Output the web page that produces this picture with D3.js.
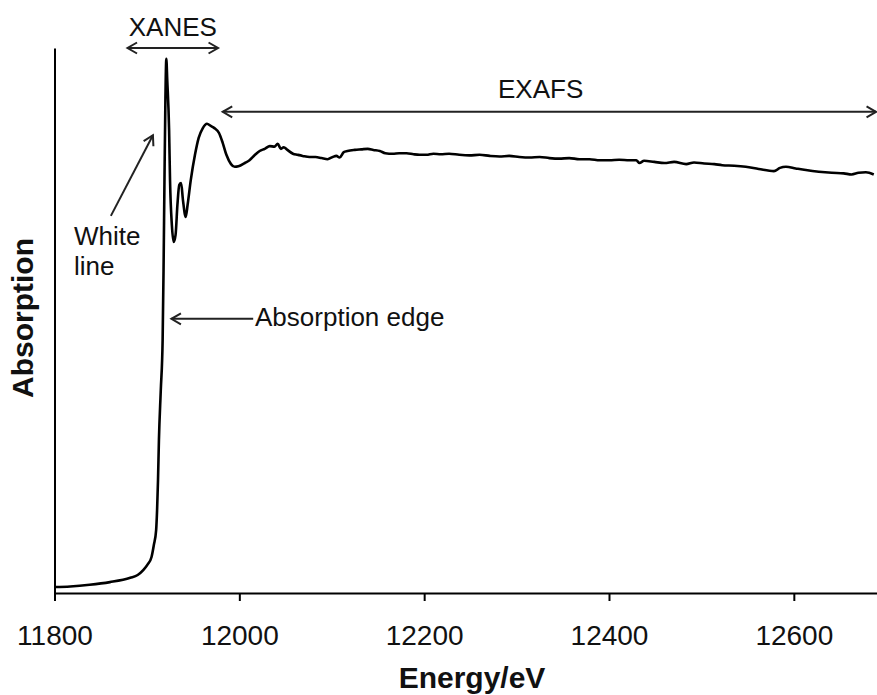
<!DOCTYPE html>
<html>
<head>
<meta charset="utf-8">
<script src="https://cdn.jsdelivr.net/npm/d3@7"></script>
<style>
  html, body { margin: 0; padding: 0; background: #fff; }
  svg { display: block; font-family: "Liberation Sans", Arial, sans-serif; }
</style>
</head>
<body>
<svg id="chart" width="877" height="695"></svg>
<script>
// X-ray absorption spectrum: energy (eV) and normalised absorption
const energy = [
  11800, 11817, 11838, 11860, 11882, 11890, 11896, 11901, 11905, 11907.5,
  11910, 11911, 11912, 11913, 11915, 11917, 11918, 11919, 11920, 11921,
  11922, 11924, 11925, 11927, 11929, 11931, 11933, 11935, 11937, 11939,
  11942, 11944, 11947.5, 11952, 11956, 11960.5, 11965, 11969, 11973, 11978,
  11982, 11986, 11991, 11995, 11999, 12006, 12011, 12017, 12022, 12027.5,
  12033, 12038, 12041.5, 12045, 12048, 12052, 12058, 12063, 12068.5, 12076,
  12082.5, 12089, 12095.5, 12101, 12105, 12108.5, 12113, 12117, 12125, 12132,
  12139, 12145, 12152, 12158, 12166, 12173, 12181, 12188.5, 12195, 12202.5,
  12210, 12218, 12227, 12238, 12249, 12260, 12271, 12281.5, 12292, 12303,
  12314, 12325, 12335.5, 12346, 12357, 12368, 12379, 12390, 12400.5, 12411,
  12422, 12429.5, 12433, 12438, 12449, 12460, 12470.5, 12483.5, 12492, 12503,
  12514, 12522.5, 12535.5, 12548, 12562, 12578.5, 12585, 12591.5, 12602, 12613,
  12627, 12641, 12654, 12662.5, 12670, 12678, 12686.5
];
const absorption = [
  0.011, 0.012, 0.015, 0.020, 0.028, 0.033, 0.042, 0.053, 0.066, 0.088,
  0.116, 0.152, 0.207, 0.281, 0.372, 0.464, 0.593, 0.758, 0.905, 0.980,
  0.941, 0.850, 0.758, 0.675, 0.644, 0.657, 0.712, 0.749, 0.752, 0.721,
  0.690, 0.712, 0.758, 0.804, 0.835, 0.853, 0.861, 0.857, 0.853, 0.844,
  0.826, 0.804, 0.787, 0.782, 0.783, 0.789, 0.794, 0.804, 0.811, 0.815,
  0.820, 0.819, 0.824, 0.815, 0.818, 0.813, 0.806, 0.804, 0.802, 0.800,
  0.800, 0.798, 0.796, 0.800, 0.802, 0.799, 0.809, 0.811, 0.813, 0.814,
  0.815, 0.813, 0.811, 0.807, 0.806, 0.807, 0.807, 0.805, 0.804, 0.804,
  0.806, 0.805, 0.806, 0.804, 0.803, 0.804, 0.802, 0.801, 0.802, 0.800,
  0.799, 0.800, 0.798, 0.797, 0.798, 0.796, 0.796, 0.794, 0.794, 0.795,
  0.794, 0.794, 0.789, 0.793, 0.791, 0.789, 0.791, 0.787, 0.790, 0.788,
  0.787, 0.785, 0.784, 0.782, 0.778, 0.774, 0.780, 0.782, 0.779, 0.776,
  0.773, 0.771, 0.770, 0.768, 0.771, 0.772, 0.768
];
const xTicks = [11800, 12000, 12200, 12400, 12600];
const xTitle = "Energy/eV";
const yTitle = "Absorption";

// Region annotations (data coordinates)
const regionArrows = [
  { label: "XANES", from: 11879, to: 11977, level: 1.000, labelAt: 11928, labelLevel: 1.022 },
  { label: "EXAFS", from: 11982, to: 12689, level: 0.883, labelAt: 12326, labelLevel: 0.908 }
];
const pointerArrows = [
  { lines: ["White", "line"], tail: [11861, 0.692], tip: [11906.5, 0.840], textAt: [11821, 0.6385] },
  { lines: ["Absorption edge"], tail: [12015, 0.503], tip: [11926.5, 0.503], textAt: [12017, 0.490] }
];

const svg = d3.select("#chart");
const plot = { left: 54.5, right: 877, top: 48, bottom: 593 };

const x = d3.scaleLinear().domain([11800, 12690]).range([plot.left, plot.right]);
const y = d3.scaleLinear().domain([0, 1]).range([plot.bottom, plot.top]);

// Bottom axis
const xAxis = svg.append("g")
  .attr("transform", `translate(0,${plot.bottom})`)
  .call(d3.axisBottom(x).tickValues(xTicks).tickFormat(d3.format("d")).tickSize(8).tickSizeOuter(0));
xAxis.select(".domain").attr("stroke", "#000").attr("stroke-width", 2);
xAxis.selectAll(".tick line").attr("stroke", "#000").attr("stroke-width", 2);
xAxis.selectAll(".tick text")
  .attr("y", 52).attr("dy", 0)
  .attr("fill", "#111")
  .style("font-size", "28px")
  .style("font-family", "'Liberation Sans', Arial, sans-serif");

// Left axis (line only)
const yAxis = svg.append("g")
  .attr("transform", `translate(${plot.left},0)`)
  .call(d3.axisLeft(y).tickValues([]).tickSizeOuter(0));
yAxis.select(".domain").attr("stroke", "#000").attr("stroke-width", 2);

// Axis titles
svg.append("text")
  .attr("x", 472).attr("y", 688)
  .attr("text-anchor", "middle")
  .style("font-size", "30px").style("font-weight", "bold")
  .attr("fill", "#111")
  .text(xTitle);
svg.append("text")
  .attr("transform", `translate(33,318) rotate(-90)`)
  .attr("text-anchor", "middle")
  .style("font-size", "30px").style("font-weight", "bold")
  .attr("fill", "#111")
  .text(yTitle);

// Spectrum
const points = energy.map((e, i) => [e, absorption[i]]);
svg.append("path")
  .datum(points)
  .attr("fill", "none")
  .attr("stroke", "#000")
  .attr("stroke-width", 2.6)
  .attr("stroke-linejoin", "round")
  .attr("d", d3.line().x(d => x(d[0])).y(d => y(d[1])).curve(d3.curveMonotoneX));

// Open chevron arrow head drawn at (tx,ty), pointing away from (fx,fy)
function head(g, fx, fy, tx, ty) {
  const a = Math.atan2(ty - fy, tx - fx);
  const len = 11, spread = Math.PI / 6;
  const p1 = [tx - len * Math.cos(a - spread), ty - len * Math.sin(a - spread)];
  const p2 = [tx - len * Math.cos(a + spread), ty - len * Math.sin(a + spread)];
  g.append("path")
    .attr("d", `M${p1[0]},${p1[1]}L${tx},${ty}L${p2[0]},${p2[1]}`)
    .attr("fill", "none").attr("stroke", "#222").attr("stroke-width", 2)
    .attr("stroke-linejoin", "miter");
}

const ann = svg.append("g").attr("class", "annotations");

regionArrows.forEach(r => {
  const x1 = x(r.from), x2 = x(r.to), yy = y(r.level);
  ann.append("line")
    .attr("x1", x1).attr("x2", x2).attr("y1", yy).attr("y2", yy)
    .attr("stroke", "#222").attr("stroke-width", 2);
  head(ann, x2, yy, x1, yy);
  head(ann, x1, yy, x2, yy);
  ann.append("text")
    .attr("x", x(r.labelAt)).attr("y", y(r.labelLevel))
    .attr("text-anchor", "middle")
    .style("font-size", "26px").attr("fill", "#111")
    .text(r.label);
});

pointerArrows.forEach(p => {
  const tx = x(p.tail[0]), ty = y(p.tail[1]);
  const hx = x(p.tip[0]), hy = y(p.tip[1]);
  ann.append("line")
    .attr("x1", tx).attr("y1", ty).attr("x2", hx).attr("y2", hy)
    .attr("stroke", "#222").attr("stroke-width", 2);
  head(ann, tx, ty, hx, hy);
  const t = ann.append("text")
    .attr("x", x(p.textAt[0])).attr("y", y(p.textAt[1]))
    .style("font-size", "26px").attr("fill", "#111");
  p.lines.forEach((ln, i) => {
    t.append("tspan")
      .attr("x", x(p.textAt[0]))
      .attr("dy", i === 0 ? 0 : 30)
      .text(ln);
  });
});
</script>
</body>
</html>
